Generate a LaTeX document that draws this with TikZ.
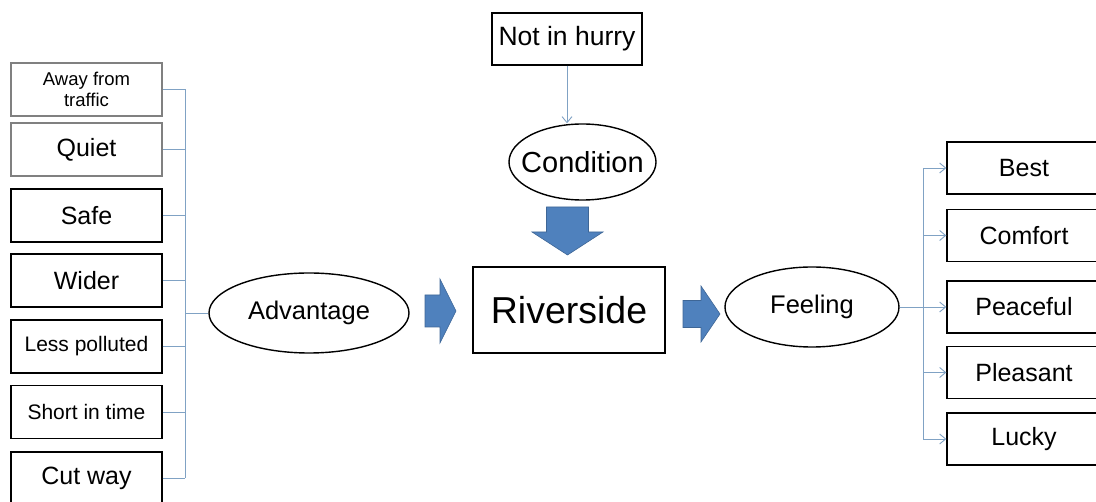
\documentclass[tikz,border=0pt]{standalone}
\usepackage{fontspec}
\setmainfont{Liberation Sans}
\usetikzlibrary{arrows.meta,shapes.geometric,positioning,calc}
\definecolor{linkblue}{RGB}{128,162,196}
\definecolor{arrfill}{RGB}{79,129,189}
\definecolor{arredge}{RGB}{62,102,150}

\begin{document}
\begin{tikzpicture}[x=1pt, y=-1pt,
    item/.style={draw=black, line width=1.4pt, minimum width=151pt, minimum height=53pt, inner sep=0pt, align=center, font=\fontsize{25}{30}\selectfont},
    greyitem/.style={item, draw=black!50, line width=1.8pt},
    feelbox/.style={item, minimum width=154pt, minimum height=52pt},
    oval/.style={draw, ellipse, line width=1.4pt, inner sep=0pt, font=\fontsize{25.5}{30}\selectfont},
    link/.style={draw=linkblue, line width=0.9pt},
    linkarr/.style={link, -{Straight Barb[length=6pt,width=10pt]}},
    blockarr/.style={fill=arrfill, draw=arredge, line width=0.6pt}
]
\useasboundingbox (0,0) rectangle (1096,502);

% advantages
\node[greyitem, font=\fontsize{18.5}{20.5}\selectfont] (away) at (86.5,89.5) {Away from\\traffic};
\node[greyitem] (quiet) at (86.5,149.5) {Quiet};
\node[item] (safe) at (86.5,215.5) {Safe};
\node[item] (wider) at (86.5,280.5) {Wider};
\node[item, font=\fontsize{21}{25}\selectfont] (less) at (86.5,346.5) {Less polluted};
\node[item, font=\fontsize{21}{25}\selectfont] (short) at (86.5,412) {Short in time};
\node[item] (cut) at (86.5,478.5) {Cut way};

% centre
\node[oval, minimum width=200pt, minimum height=80pt] (adv) at (309,313) {Advantage};
\node[item, minimum width=192pt, minimum height=86pt, font=\fontsize{37.5}{44}\selectfont] (river) at (569,310) {Riverside};
\node[oval, minimum width=174pt, minimum height=80pt] (feel) at (812,307) {Feeling};
\node[item, minimum width=150pt, minimum height=52pt, font=\fontsize{26.5}{30}\selectfont] (hurry) at (567,39) {Not in hurry};
\node[oval, minimum width=147pt, minimum height=76pt, font=\fontsize{29}{34}\selectfont] (cond) at (582.5,162) {\makebox[0pt]{Condition}};

% feelings
\node[feelbox] (best) at (1024,168) {Best};
\node[feelbox] (comfort) at (1024,235.5) {Comfort};
\node[feelbox] (peace) at (1024,307) {Peaceful};
\node[feelbox] (pleasant) at (1024,372.5) {Pleasant};
\node[feelbox] (lucky) at (1024,439) {Lucky};

% left bracket
\coordinate (lbus) at (185,0);
\foreach \n in {away,quiet,safe,wider,less,short,cut}
  \draw[link] (\n.east) -- (\n.east -| lbus);
\draw[link] (away.east -| lbus) -- (cut.east -| lbus);
\draw[link] (lbus |- adv.west) -- (adv.west);

% right bracket
\coordinate (rbus) at (923,0);
\draw[link] (best.west -| rbus) -- (lucky.west -| rbus);
\draw[link] (feel.east) -- (feel.east -| rbus);
\foreach \n in {best,comfort,peace,pleasant,lucky}
  \draw[linkarr] (\n.west -| rbus) -- (\n.west);

\draw[linkarr] (hurry.south) -- (hurry.south |- cond.north);

% block arrows
\coordinate (tailA) at (425,311);
\coordinate (tailB) at (683,314);
\coordinate (tailC) at (567.5,207);
\draw[blockarr] ($(tailA)+(0,-16)$) -- ++(15,0) -- ++(0,-16) -- ++(16,32) -- ++(-16,32) -- ++(0,-16) -- ++(-15,0) -- cycle;
\draw[blockarr] ($(tailB)+(0,-13.5)$) -- ++(18,0) -- ++(0,-14.5) -- ++(19,28) -- ++(-19,28) -- ++(0,-14.5) -- ++(-18,0) -- cycle;
\draw[blockarr] ($(tailC)+(-21,0)$) -- ++(0,25) -- ++(-14.5,0) -- ++(35.5,23) -- ++(35.5,-23) -- ++(-14.5,0) -- ++(0,-25) -- cycle;
\end{tikzpicture}
\end{document}
